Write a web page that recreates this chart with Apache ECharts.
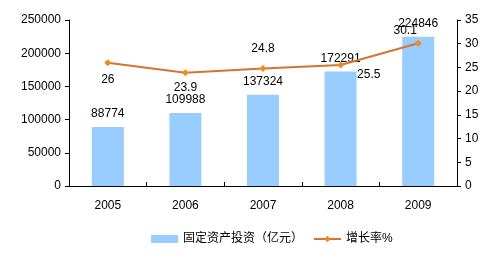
<!DOCTYPE html>
<html><head><meta charset="utf-8">
<script src="https://cdn.jsdelivr.net/npm/echarts@6/dist/echarts.min.js"></script>
<style>html,body{margin:0;padding:0;background:#fff}#c{width:493px;height:254px}</style>
</head><body><div id="c"></div>
<script>
var years = ['2005','2006','2007','2008','2009'];
var investment = [88774, 109988, 137324, 172291, 224846];
var growth = [26, 23.9, 24.8, 25.5, 30.1];
var barName = '固定资产投资（亿元）';
var lineName = '增长率%';
var labelPos = [
  {position:'bottom', distance:8},
  {position:'bottom', distance:6},
  {position:'top', distance:10},
  {position:'right', offset:[8,10]},
  {position:'top', offset:[-13,2]}
];
var font = 'Arial, "Liberation Sans", "Noto Sans CJK SC", sans-serif';
var chart = echarts.init(document.getElementById('c'));
chart.setOption({
  animation:false,
  textStyle:{fontFamily:font},
  grid:{left:69, right:36, top:20, bottom:68, containLabel:false},
  legend:{
    bottom:4, left:146, itemGap:10, itemWidth:27, itemHeight:8,
    textStyle:{fontSize:12, color:'#000', fontFamily:font},
    data:[{name:barName, icon:'rect'}, {name:lineName}]
  },
  xAxis:{
    type:'category', data:years,
    axisLine:{lineStyle:{color:'#000'}},
    axisTick:{show:true, inside:true, length:4, lineStyle:{color:'#000'}},
    axisLabel:{color:'#000', fontSize:12, margin:14}
  },
  yAxis:[{
    type:'value', min:0, max:250000, interval:50000,
    axisLine:{show:true, lineStyle:{color:'#000'}},
    axisTick:{show:true, length:4, lineStyle:{color:'#000'}},
    axisLabel:{color:'#000', fontSize:12, margin:8, formatter:function(v){return String(v);}},
    splitLine:{show:false}
  },{
    type:'value', min:0, max:35, interval:5,
    axisLine:{show:true, lineStyle:{color:'#000'}},
    axisTick:{show:true, length:4, lineStyle:{color:'#000'}},
    axisLabel:{color:'#000', fontSize:12, margin:8},
    splitLine:{show:false}
  }],
  series:[{
    name:barName, type:'bar', data:investment, barWidth:32,
    itemStyle:{color:'#99CCFF'},
    label:{show:true, position:'top', distance:7, color:'#000', fontSize:12}
  },{
    name:lineName, type:'line', yAxisIndex:1,
    data:growth.map(function(v,i){return {value:v, label:labelPos[i]};}),
    symbol:'diamond', symbolSize:7,
    lineStyle:{color:'#D27530', width:2},
    itemStyle:{color:'#EE8A1E'},
    label:{show:true, color:'#000', fontSize:12}
  }]
});
</script></body></html>
